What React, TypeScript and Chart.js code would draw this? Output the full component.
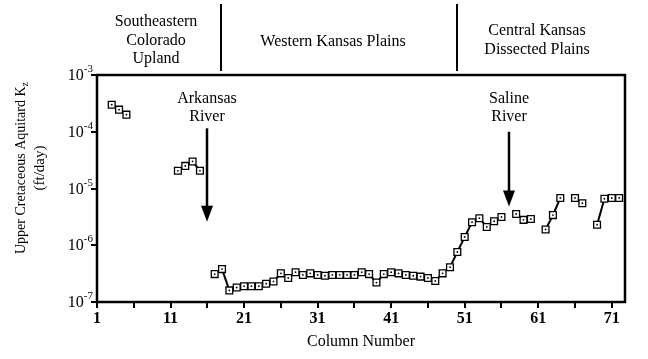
import React, { useEffect, useRef } from "react";
import { Chart, registerables } from "chart.js";

Chart.register(...registerables);

// ---- data ----
const columns = [
  3, 4, 5,
  12, 13, 14, 15,
  17, 18, 19, 20, 21, 22, 23, 24, 25, 26, 27, 28, 29, 30, 31, 32, 33, 34, 35, 36,
  37, 38, 39, 40, 41, 42, 43, 44, 45, 46, 47, 48, 49, 50, 51, 52, 53, 54, 55, 56,
  58, 59, 60,
  62, 63, 64,
  66, 67,
  69, 70, 71, 72,
];
const kz = [
  3.0e-4, 2.45e-4, 2.0e-4,
  2.05e-5, 2.5e-5, 3.0e-5, 2.05e-5,
  3.1e-7, 3.8e-7, 1.6e-7, 1.8e-7, 1.9e-7, 1.9e-7, 1.9e-7, 2.1e-7, 2.3e-7, 3.2e-7, 2.65e-7, 3.35e-7, 3.0e-7, 3.2e-7, 3.0e-7, 2.9e-7, 3.0e-7, 3.0e-7, 3.0e-7, 3.0e-7,
  3.35e-7, 3.1e-7, 2.2e-7, 3.1e-7, 3.35e-7, 3.2e-7, 3.0e-7, 2.9e-7, 2.8e-7, 2.65e-7, 2.35e-7, 3.2e-7, 4.1e-7, 7.6e-7, 1.4e-6, 2.55e-6, 3.0e-6, 2.1e-6, 2.65e-6, 3.15e-6,
  3.55e-6, 2.8e-6, 2.9e-6,
  1.9e-6, 3.4e-6, 6.8e-6,
  6.8e-6, 5.5e-6,
  2.3e-6, 6.6e-6, 6.8e-6, 6.8e-6,
];

const xMajorTicks = [1, 11, 21, 31, 41, 51, 61, 71];
const xMinorTicks = [6, 16, 26, 36, 46, 56, 66];
const yTickExponents = [-3, -4, -5, -6, -7];

const regionNames = [
  ["Southeastern", "Colorado", "Upland"],
  ["Western Kansas Plains"],
  ["Central Kansas", "Dissected Plains"],
];
const regionBounds = [17.85, 49.9];

const riverNames = [
  ["Arkansas", "River"],
  ["Saline", "River"],
];
const riverColumns = [16, 57];
const riverArrowTop = [1.15e-4, 1.0e-4];
const riverArrowTip = [2.6e-6, 4.8e-6];

const SERIF = "'Liberation Serif', 'Times New Roman', serif";

function buildPoints() {
  const pts: { x: number; y: number | null }[] = [];
  for (let i = 0; i < columns.length; i++) {
    if (i > 0 && columns[i] - columns[i - 1] > 1) {
      pts.push({ x: columns[i] - 1, y: null });
    }
    pts.push({ x: columns[i], y: kz[i] });
  }
  return pts;
}

const decorPlugin = {
  id: "decor",
  afterDraw(chart: any) {
    const ctx: CanvasRenderingContext2D = chart.ctx;
    const xs = chart.scales.x;
    const ys = chart.scales.y;
    const { left, right, top, bottom } = chart.chartArea;
    ctx.save();
    ctx.fillStyle = "#000";
    ctx.strokeStyle = "#000";

    // frame
    ctx.lineWidth = 2.5;
    ctx.strokeRect(left, top, right - left, bottom - top);

    // x ticks
    ctx.lineWidth = 2;
    [...xMajorTicks, ...xMinorTicks].forEach((v) => {
      const px = Math.round(xs.getPixelForValue(v));
      ctx.beginPath();
      ctx.moveTo(px, bottom);
      ctx.lineTo(px, bottom + 6);
      ctx.stroke();
    });
    ctx.font = `bold 16px ${SERIF}`;
    ctx.textAlign = "center";
    ctx.textBaseline = "alphabetic";
    xMajorTicks.forEach((v) => {
      const px = xs.getPixelForValue(v);
      ctx.fillText(String(v), px, 323);
    });

    // y ticks
    yTickExponents.forEach((e) => {
      const py = Math.round(ys.getPixelForValue(Math.pow(10, e)));
      ctx.beginPath();
      ctx.moveTo(left - 6, py);
      ctx.lineTo(left, py);
      ctx.stroke();
      const sup = String(e);
      ctx.font = `11px ${SERIF}`;
      const wSup = ctx.measureText(sup).width;
      ctx.textAlign = "right";
      ctx.textBaseline = "middle";
      ctx.fillText(sup, left - 4, py - 6);
      ctx.font = `16px ${SERIF}`;
      ctx.fillText("10", left - 4 - wSup, py + 1);
    });

    // x title
    ctx.font = `16px ${SERIF}`;
    ctx.textAlign = "center";
    ctx.textBaseline = "alphabetic";
    ctx.fillText("Column Number", (left + right) / 2, 346);

    // y title (rotated)
    ctx.save();
    ctx.translate(25, 168);
    ctx.rotate(-Math.PI / 2);
    ctx.font = `14px ${SERIF}`;
    const main = "Upper Cretaceous Aquitard K";
    const wMain = ctx.measureText(main).width;
    ctx.font = `10px ${SERIF}`;
    const wSub = ctx.measureText("z").width;
    const startX = -(wMain + wSub) / 2;
    ctx.textAlign = "left";
    ctx.font = `14px ${SERIF}`;
    ctx.fillText(main, startX, 0);
    ctx.font = `10px ${SERIF}`;
    ctx.fillText("z", startX + wMain, 3);
    ctx.font = `15px ${SERIF}`;
    ctx.textAlign = "center";
    ctx.fillText("(ft/day)", 0, 19);
    ctx.restore();

    // header region separators
    ctx.lineWidth = 2;
    regionBounds.forEach((b) => {
      const px = Math.round(xs.getPixelForValue(b));
      ctx.beginPath();
      ctx.moveTo(px, 4);
      ctx.lineTo(px, 71);
      ctx.stroke();
    });
    ctx.font = `16px ${SERIF}`;
    ctx.textAlign = "center";
    ctx.textBaseline = "alphabetic";
    const headerCenters = [156, 333, 537];
    const headerBaselines = [26, 46, 35];
    regionNames.forEach((lines, i) => {
      lines.forEach((t, j) => {
        ctx.fillText(t, headerCenters[i], headerBaselines[i] + j * 18.5);
      });
    });

    // river arrows + labels
    riverColumns.forEach((c, i) => {
      const px = Math.round(xs.getPixelForValue(c));
      const yTop = ys.getPixelForValue(riverArrowTop[i]);
      const yTip = ys.getPixelForValue(riverArrowTip[i]);
      ctx.lineWidth = 2.5;
      ctx.beginPath();
      ctx.moveTo(px, yTop);
      ctx.lineTo(px, yTip - 12);
      ctx.stroke();
      ctx.beginPath();
      ctx.moveTo(px - 6, yTip - 16);
      ctx.lineTo(px + 6, yTip - 16);
      ctx.lineTo(px, yTip);
      ctx.closePath();
      ctx.fill();
      ctx.font = `16px ${SERIF}`;
      ctx.textAlign = "center";
      ctx.fillText(riverNames[i][0], px, 103);
      ctx.fillText(riverNames[i][1], px, 121);
    });

    ctx.restore();
  },
};

export default function App() {
  const canvasRef = useRef<HTMLCanvasElement | null>(null);

  useEffect(() => {
    const canvas = canvasRef.current;
    if (!canvas) return;
    const pts = buildPoints();
    const chart = new Chart(canvas, {
      type: "line",
      data: {
        datasets: [
          {
            data: pts.filter((p) => p.y !== null),
            showLine: false,
            pointStyle: "circle",
            pointRadius: 0.9,
            pointBackgroundColor: "#000",
            pointBorderWidth: 0,
            borderWidth: 0,
          },
          {
            data: pts,
            borderColor: "#000",
            borderWidth: 2,
            spanGaps: false,
            pointStyle: "rect",
            pointRadius: 4.8,
            pointBackgroundColor: "#fff",
            pointBorderColor: "#000",
            pointBorderWidth: 1.3,
          },
        ],
      },
      options: {
        animation: false,
        responsive: false,
        devicePixelRatio: 1,
        layout: { padding: { left: 97, top: 75, right: 23, bottom: 57 } },
        plugins: { legend: { display: false }, tooltip: { enabled: false } },
        scales: {
          x: { type: "linear", min: 1, max: 72.8, display: false },
          y: { type: "logarithmic", min: 1e-7, max: 1e-3, display: false },
        },
      },
      plugins: [decorPlugin],
    });
    return () => chart.destroy();
  }, []);

  return (
    <div style={{ position: "fixed", left: 0, top: 0, width: 648, height: 359, background: "#fff" }}>
      <canvas ref={canvasRef} width={648} height={359} style={{ display: "block" }} />
    </div>
  );
}
